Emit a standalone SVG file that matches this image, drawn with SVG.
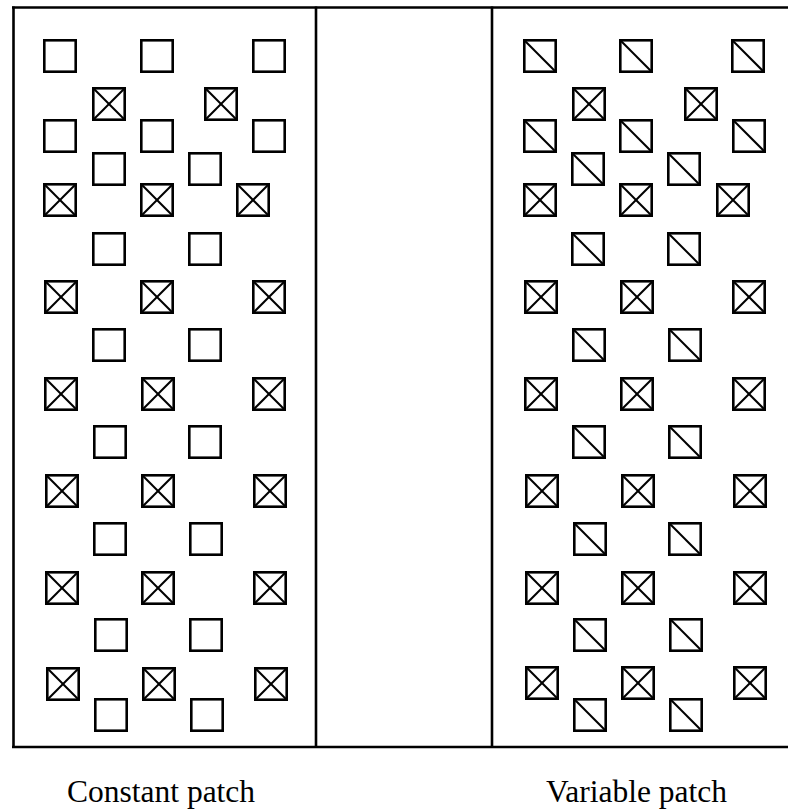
<svg xmlns="http://www.w3.org/2000/svg" xmlns:xlink="http://www.w3.org/1999/xlink" width="788" height="812" viewBox="0 0 788 812">
<style>
.frame{stroke:#000;stroke-width:2.6;fill:none}
.box rect{fill:#fff;stroke:#000;stroke-width:2.6}
.box line{stroke:#000;stroke-width:2}
.lbl{font-family:"Liberation Serif","Times New Roman",serif;font-size:31.5px;fill:#000}
</style>
<defs>
<g id="sq" class="box"><rect x="1.3" y="1.3" width="31.4" height="31.4"/></g>
<g id="sx" class="box"><rect x="1.3" y="1.3" width="31.4" height="31.4"/><line x1="1.3" y1="1.3" x2="32.7" y2="32.7"/><line x1="32.7" y1="1.3" x2="1.3" y2="32.7"/></g>
<g id="sd" class="box"><rect x="1.3" y="1.3" width="31.4" height="31.4"/><line x1="1.3" y1="1.3" x2="32.7" y2="32.7"/></g>
</defs>
<rect width="788" height="812" fill="#fff"/>
<g id="connectors">
<line class="frame" x1="12" y1="7.5" x2="788" y2="7.5"/>
<line class="frame" x1="12" y1="747" x2="788" y2="747"/>
<line class="frame" x1="13.5" y1="6.5" x2="13.5" y2="748"/>
<line class="frame" x1="316" y1="6.5" x2="316" y2="748"/>
<line class="frame" x1="492" y1="6.5" x2="492" y2="748"/>
</g>
<g id="constant-patch">
<use id="c1" href="#sq" x="43" y="39"/><use id="c2" href="#sq" x="140" y="39"/><use id="c3" href="#sq" x="252" y="39"/>
<use id="c4" href="#sx" x="92" y="87"/><use id="c5" href="#sx" x="204" y="87"/>
<use id="c6" href="#sq" x="43" y="119"/><use id="c7" href="#sq" x="140" y="119"/><use id="c8" href="#sq" x="252" y="119"/>
<use id="c9" href="#sq" x="92" y="152"/><use id="c10" href="#sq" x="188" y="152"/>
<use id="c11" href="#sx" x="43" y="183"/><use id="c12" href="#sx" x="140" y="183"/><use id="c13" href="#sx" x="236" y="183"/>
<use id="c14" href="#sq" x="92" y="232"/><use id="c15" href="#sq" x="188" y="232"/>
<use id="c16" href="#sx" x="44" y="280"/><use id="c17" href="#sx" x="140" y="280"/><use id="c18" href="#sx" x="252" y="280"/>
<use id="c19" href="#sq" x="92" y="328"/><use id="c20" href="#sq" x="188" y="328"/>
<use id="c21" href="#sx" x="44" y="377"/><use id="c22" href="#sx" x="141" y="377"/><use id="c23" href="#sx" x="252" y="377"/>
<use id="c24" href="#sq" x="93" y="425"/><use id="c25" href="#sq" x="188" y="425"/>
<use id="c26" href="#sx" x="45" y="474"/><use id="c27" href="#sx" x="141" y="474"/><use id="c28" href="#sx" x="253" y="474"/>
<use id="c29" href="#sq" x="93" y="522"/><use id="c30" href="#sq" x="189" y="522"/>
<use id="c31" href="#sx" x="45" y="571"/><use id="c32" href="#sx" x="141" y="571"/><use id="c33" href="#sx" x="253" y="571"/>
<use id="c34" href="#sq" x="94" y="618"/><use id="c35" href="#sq" x="189" y="618"/>
<use id="c36" href="#sx" x="46" y="667"/><use id="c37" href="#sx" x="142" y="667"/><use id="c38" href="#sx" x="254" y="667"/>
<use id="c39" href="#sq" x="94" y="698"/><use id="c40" href="#sq" x="190" y="698"/>
</g>
<g id="variable-patch">
<use id="v1" href="#sd" x="523" y="39"/><use id="v2" href="#sd" x="619" y="39"/><use id="v3" href="#sd" x="731" y="39"/>
<use id="v4" href="#sx" x="572" y="87"/><use id="v5" href="#sx" x="684" y="87"/>
<use id="v6" href="#sd" x="523" y="119"/><use id="v7" href="#sd" x="619" y="119"/><use id="v8" href="#sd" x="732" y="119"/>
<use id="v9" href="#sd" x="571" y="152"/><use id="v10" href="#sd" x="667" y="152"/>
<use id="v11" href="#sx" x="523" y="183"/><use id="v12" href="#sx" x="619" y="183"/><use id="v13" href="#sx" x="716" y="183"/>
<use id="v14" href="#sd" x="571" y="232"/><use id="v15" href="#sd" x="667" y="232"/>
<use id="v16" href="#sx" x="524" y="280"/><use id="v17" href="#sx" x="620" y="280"/><use id="v18" href="#sx" x="732" y="280"/>
<use id="v19" href="#sd" x="572" y="328"/><use id="v20" href="#sd" x="668" y="328"/>
<use id="v21" href="#sx" x="524" y="377"/><use id="v22" href="#sx" x="620" y="377"/><use id="v23" href="#sx" x="732" y="377"/>
<use id="v24" href="#sd" x="572" y="425"/><use id="v25" href="#sd" x="668" y="425"/>
<use id="v26" href="#sx" x="525" y="474"/><use id="v27" href="#sx" x="621" y="474"/><use id="v28" href="#sx" x="733" y="474"/>
<use id="v29" href="#sd" x="573" y="522"/><use id="v30" href="#sd" x="668" y="522"/>
<use id="v31" href="#sx" x="525" y="571"/><use id="v32" href="#sx" x="621" y="571"/><use id="v33" href="#sx" x="733" y="571"/>
<use id="v34" href="#sd" x="573" y="618"/><use id="v35" href="#sd" x="669" y="618"/>
<use id="v36" href="#sx" x="525" y="666"/><use id="v37" href="#sx" x="621" y="666"/><use id="v38" href="#sx" x="733" y="666"/>
<use id="v39" href="#sd" x="573" y="698"/><use id="v40" href="#sd" x="669" y="698"/>
</g>
<g id="labels">
<text class="lbl" x="67" y="802">Constant patch</text>
<text class="lbl" x="546" y="802">Variable patch</text>
</g>
</svg>
